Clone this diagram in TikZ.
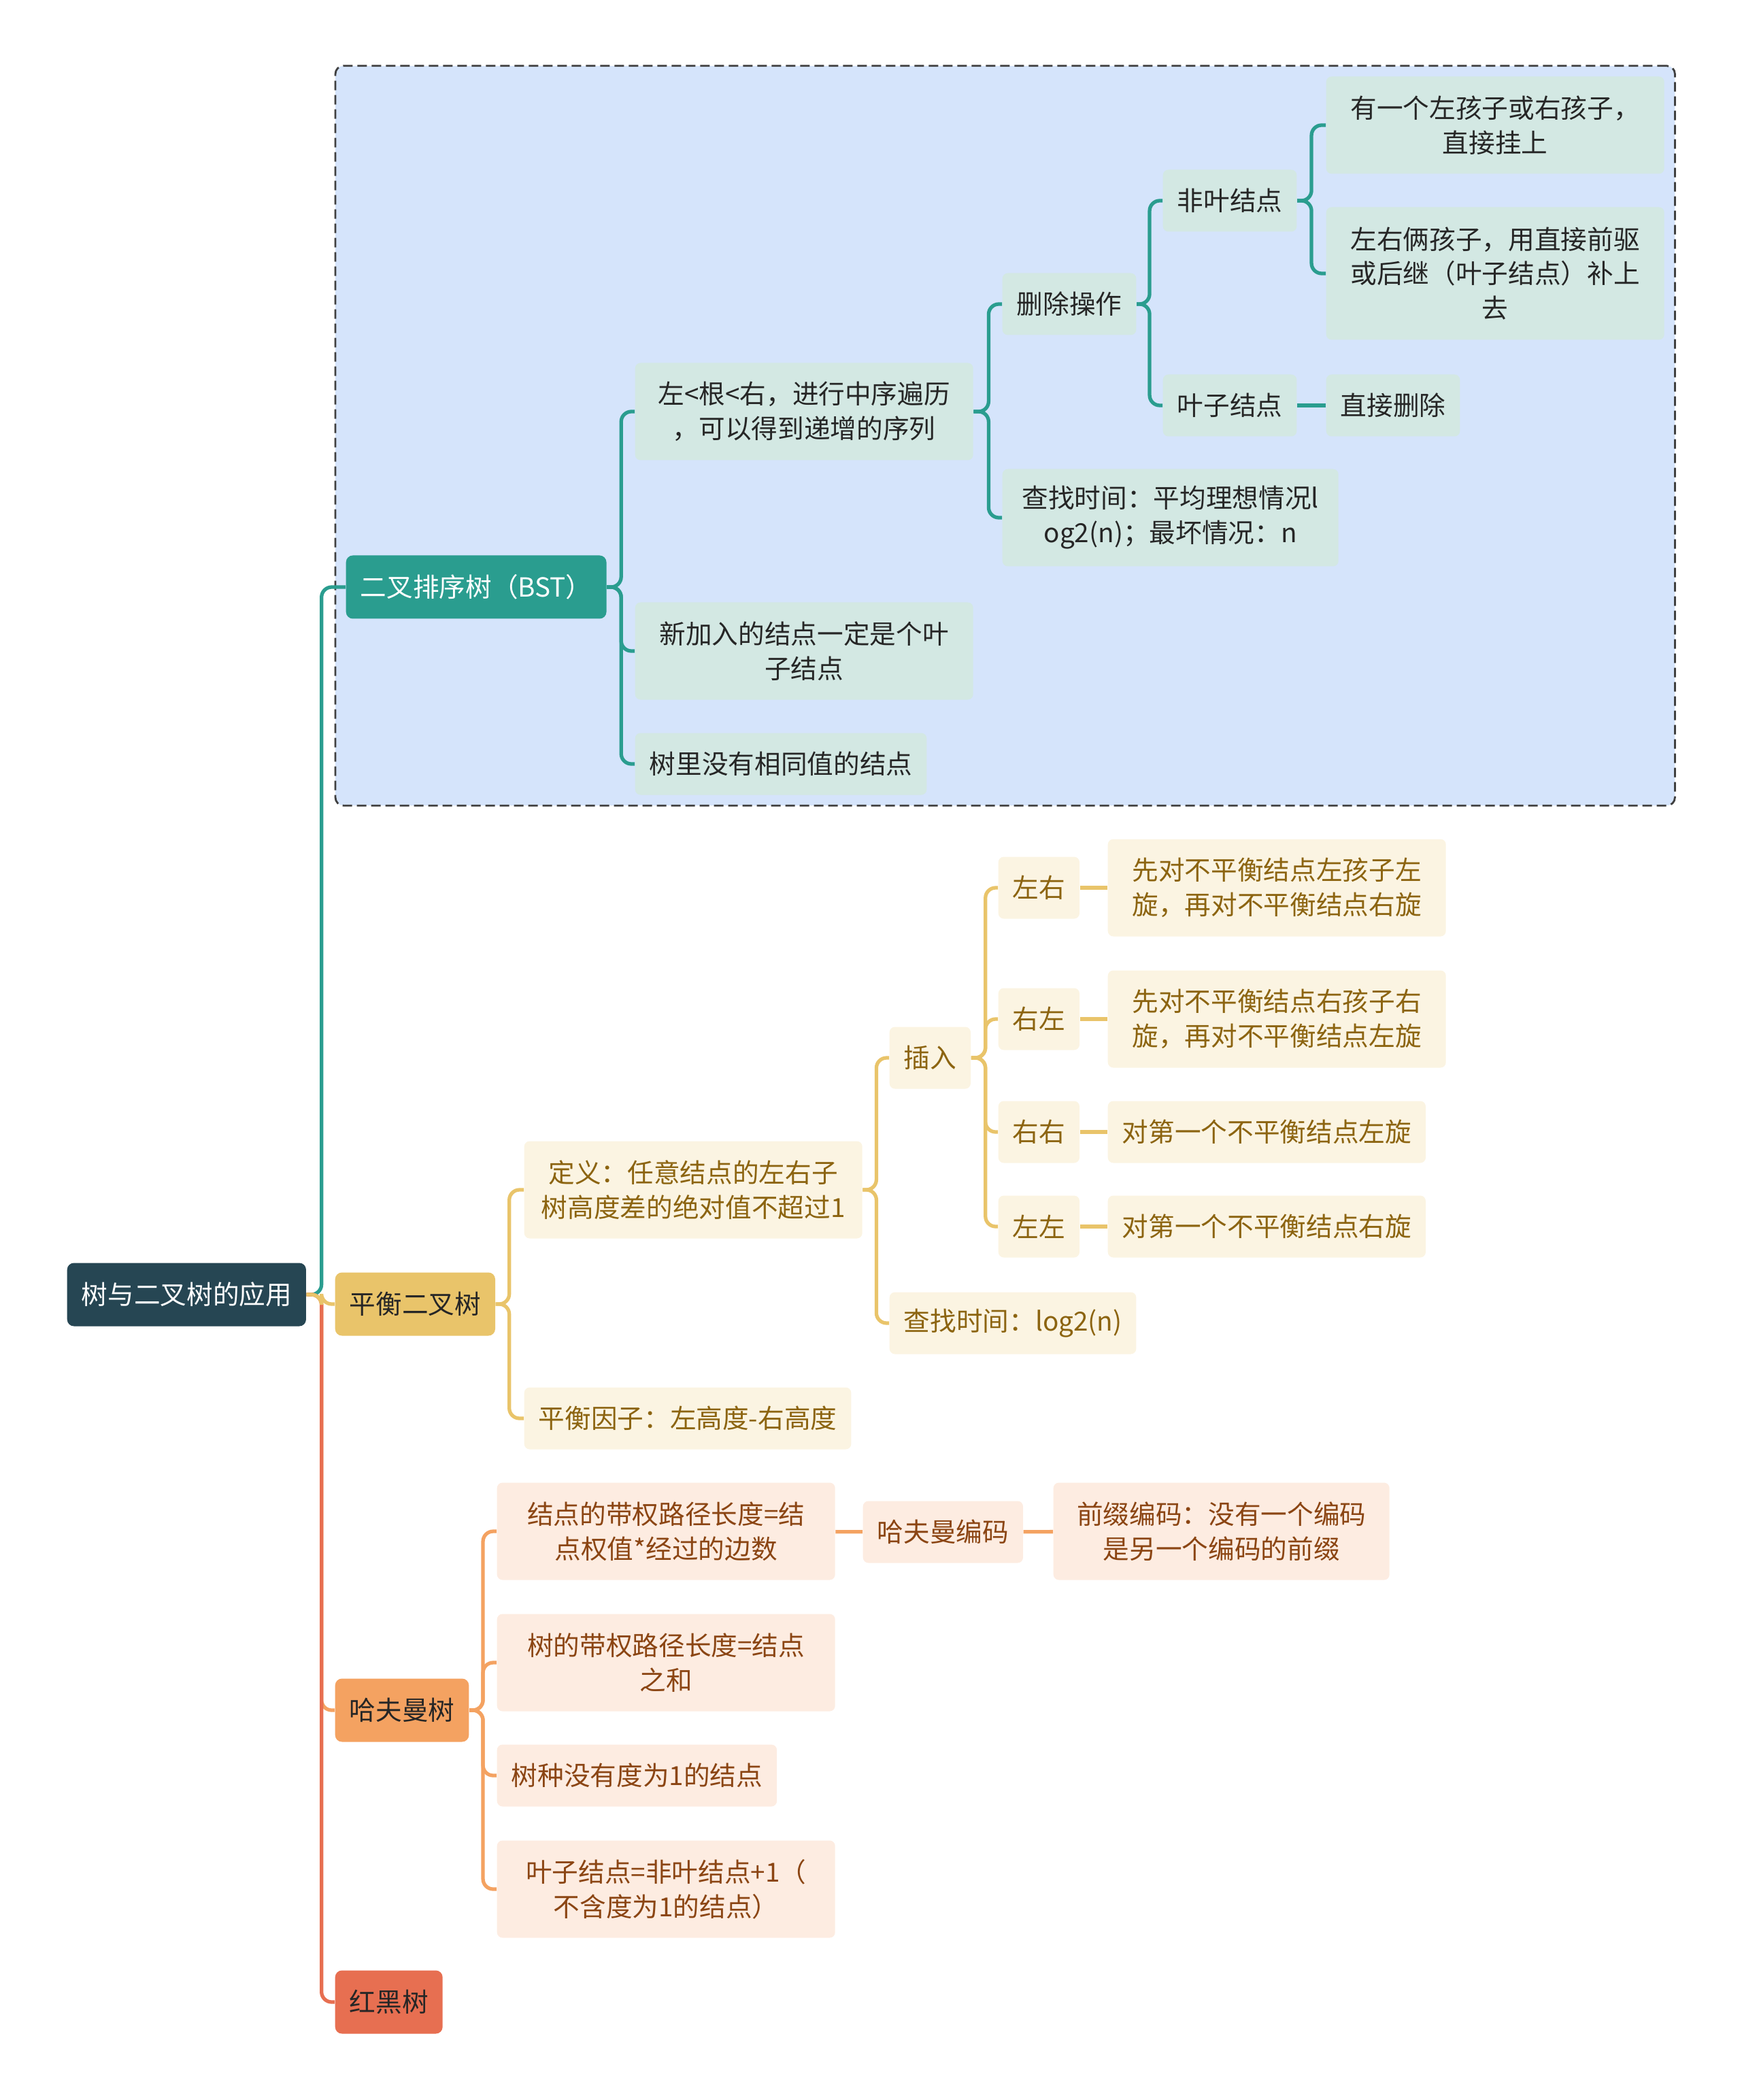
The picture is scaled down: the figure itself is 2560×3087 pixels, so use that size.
\documentclass[tikz,border=0pt]{standalone}
\usepackage{fontspec}
\setmainfont{Noto Sans CJK SC}
\usepackage{xcolor}
\definecolor{rootc}{HTML}{264653}
\definecolor{bstc}{HTML}{2A9D8F}
\definecolor{bstfill}{HTML}{D3E8E3}
\definecolor{bstbg}{HTML}{D5E4FB}
\definecolor{avlc}{HTML}{E9C46A}
\definecolor{avlfill}{HTML}{FBF4E2}
\definecolor{avltext}{HTML}{8C6410}
\definecolor{hufc}{HTML}{F4A261}
\definecolor{huffill}{HTML}{FDECE1}
\definecolor{huftext}{HTML}{8B4513}
\definecolor{rbc}{HTML}{E76F51}
\usepackage{tikz}
\usetikzlibrary{fit, backgrounds}

\begin{document}
\begin{tikzpicture}[
    x=0.1mm, y=-0.1mm,
    every node/.style={font=\fontsize{11}{14.5}\selectfont},
    nd/.style={rectangle, rounded corners=0.8mm, align=center, inner xsep=2.1mm,
               inner ysep=0pt, minimum height=9.1mm, anchor=west},
    wide/.style={minimum width=49.7mm, minimum height=14.3mm},
    mainbox/.style={nd, rounded corners=1mm, minimum height=9.3mm},
    bl/.style={nd, fill=bstfill, text=black!85},
    yl/.style={nd, fill=avlfill, text=avltext},
    ol/.style={nd, fill=huffill, text=huftext},
    bw/.style={draw=bstc, line width=1.5pt, rounded corners=1.5mm},
    yw/.style={draw=avlc, line width=1.5pt, rounded corners=1.5mm},
    ow/.style={draw=hufc, line width=1.5pt, rounded corners=1.5mm},
    rw/.style={draw=rbc, line width=1.5pt, rounded corners=1.5mm},
    zone/.style={rectangle, draw=black!75, fill=bstbg, line width=0.8pt,
                 dash pattern=on 1.4mm off 0.7mm, rounded corners=1.2mm, inner sep=1.5mm}]
  \useasboundingbox (0,0) rectangle (2560,3087);

  \node[mainbox, fill=rootc, text=white] (root) at (98,1903) {树与二叉树的应用};
  \node[mainbox, fill=bstc, text=white] (bst) at (508,863) {二叉排序树（BST）};
  \node[mainbox, fill=avlc, text=black!85] (avl) at (492,1917) {平衡二叉树};
  \node[mainbox, fill=hufc, text=black!85] (huf) at (492,2514) {哈夫曼树};
  \node[mainbox, fill=rbc, text=black!85] (rb) at (492,2943) {红黑树};

  \node[bl, wide] (b1) at (933,605) {左<根<右，进行中序遍历\\，可以得到递增的序列};
  \node[bl, wide] (b2) at (933,957) {新加入的结点一定是个叶\\子结点};
  \node[bl] (b3) at (933,1123) {树里没有相同值的结点};
  \node[bl] (del) at (1473,447) {删除操作};
  \node[bl, wide, minimum width=49.4mm] (find) at (1473,761) {查找时间：平均理想情况l\\og2(n)；最坏情况：n};
  \node[bl] (nonleaf) at (1709,295) {非叶结点};
  \node[bl] (leaf) at (1709,596) {叶子结点};
  \node[bl, wide] (onekid) at (1949,184) {有一个左孩子或右孩子，\\直接挂上};
  \node[bl, wide, minimum height=19.5mm] (twokid) at (1949,402) {左右俩孩子，用直接前驱\\或后继（叶子结点）补上\\去};
  \node[bl] (leafdel) at (1949,596) {直接删除};

  \begin{scope}[on background layer]
    \node[zone, fit=(bst)(b1)(b2)(b3)(del)(find)(nonleaf)(leaf)(onekid)(twokid)(leafdel)] (bstzone) {};
  \end{scope}

  \node[yl, wide] (def) at (770,1749) {定义：任意结点的左右子\\树高度差的绝对值不超过1};
  \node[yl] (factor) at (770,2085) {平衡因子：左高度-右高度};
  \node[yl] (ins) at (1307,1555) {插入};
  \node[yl] (avlfind) at (1307,1945) {查找时间：log2(n)};
  \node[yl] (lr) at (1467,1305) {左右};
  \node[yl] (rl) at (1467,1498) {右左};
  \node[yl] (rr) at (1467,1664) {右右};
  \node[yl] (ll) at (1467,1803) {左左};
  \node[yl, wide] (lrdo) at (1628,1305) {先对不平衡结点左孩子左\\旋，再对不平衡结点右旋};
  \node[yl, wide] (rldo) at (1628,1498) {先对不平衡结点右孩子右\\旋，再对不平衡结点左旋};
  \node[yl] (rrdo) at (1628,1664) {对第一个不平衡结点左旋};
  \node[yl] (lldo) at (1628,1803) {对第一个不平衡结点右旋};

  \node[ol, wide] (h1) at (730,2251) {结点的带权路径长度=结\\点权值*经过的边数};
  \node[ol, wide] (h2) at (730,2444) {树的带权路径长度=结点\\之和};
  \node[ol] (h3) at (730,2610) {树种没有度为1的结点};
  \node[ol, wide] (h4) at (730,2777) {叶子结点=非叶结点+1（\\不含度为1的结点）};
  \node[ol] (hcode) at (1268,2252) {哈夫曼编码};
  \node[ol, wide, minimum width=49.4mm] (prefix) at (1548,2251) {前缀编码：没有一个编码\\是另一个编码的前缀};

  \draw[bw] (root.east) -- ++(2.2mm,0) |- (bst.west);
  \draw[ow] (root.east) -- ++(2.2mm,0) |- (huf.west);
  \draw[rw] (root.east) -- ++(2.2mm,0) |- (rb.west);
  \draw[yw] (root.east) -- ++(2.2mm,0) |- (avl.west);

  \draw[bw] (bst.east) -- ++(2.1mm,0) |- (b1.west);
  \draw[bw] (bst.east) -- ++(2.1mm,0) |- (b2.west);
  \draw[bw] (bst.east) -- ++(2.1mm,0) |- (b3.west);
  \draw[bw] (b1.east) -- ++(2.2mm,0) |- (del.west);
  \draw[bw] (b1.east) -- ++(2.2mm,0) |- (find.west);
  \draw[bw] (del.east) -- ++(1.9mm,0) |- (nonleaf.west);
  \draw[bw] (del.east) -- ++(1.9mm,0) |- (leaf.west);
  \draw[bw] (nonleaf.east) -- ++(2.1mm,0) |- (onekid.west);
  \draw[bw] (nonleaf.east) -- ++(2.1mm,0) |- (twokid.west);
  \draw[bw] (leaf) -- (leafdel);

  \draw[yw] (avl.east) -- ++(2mm,0) |- (def.west);
  \draw[yw] (avl.east) -- ++(2mm,0) |- (factor.west);
  \draw[yw] (def.east) -- ++(2mm,0) |- (ins.west);
  \draw[yw] (def.east) -- ++(2mm,0) |- (avlfind.west);
  \draw[yw] (ins.east) -- ++(2.1mm,0) |- (lr.west);
  \draw[yw] (ins.east) -- ++(2.1mm,0) |- (rl.west);
  \draw[yw] (ins.east) -- ++(2.1mm,0) |- (rr.west);
  \draw[yw] (ins.east) -- ++(2.1mm,0) |- (ll.west);
  \draw[yw] (lr) -- (lrdo);
  \draw[yw] (rl) -- (rldo);
  \draw[yw] (rr) -- (rrdo);
  \draw[yw] (ll) -- (lldo);

  \draw[ow] (huf.east) -- ++(2mm,0) |- (h1.west);
  \draw[ow] (huf.east) -- ++(2mm,0) |- (h2.west);
  \draw[ow] (huf.east) -- ++(2mm,0) |- (h3.west);
  \draw[ow] (huf.east) -- ++(2mm,0) |- (h4.west);
  \draw[ow] (h1) -- (hcode);
  \draw[ow] (hcode) -- (prefix);
\end{tikzpicture}
\end{document}
